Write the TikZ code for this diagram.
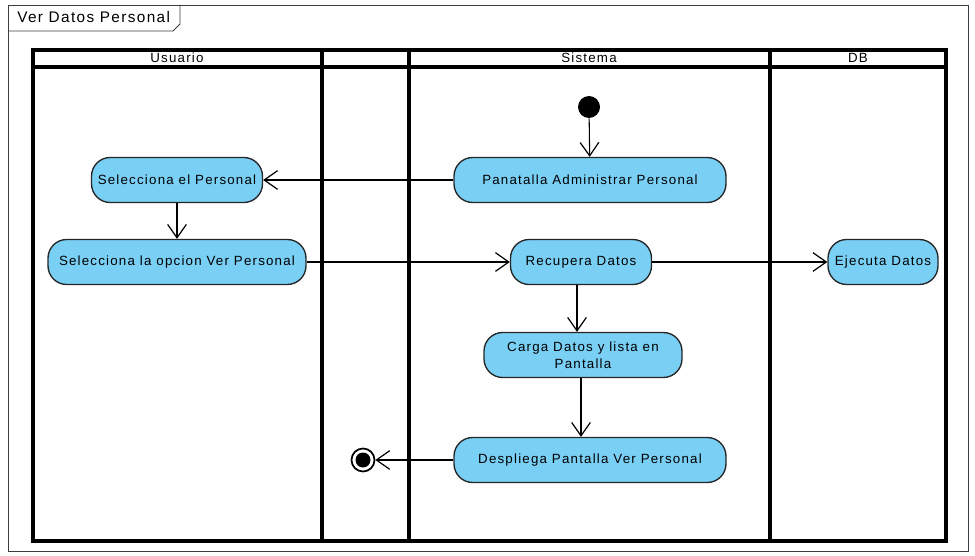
\documentclass[tikz,border=0pt]{standalone}
\usepackage{fontspec}
\setmainfont{Liberation Sans}
\newfontfamily\vpfont[LetterSpace=9]{Liberation Sans}
\usetikzlibrary{arrows.meta,positioning}
\definecolor{actblue}{RGB}{122,207,245}
\definecolor{framegray}{RGB}{60,60,60}
\newcommand{\px}{0.75pt}
\tikzset{
  action/.style={draw=black!85, fill=actblue, rounded corners=14pt, line width=1pt, minimum height=45*\px, align=center, font=\vpfont\fontsize{10}{13}\selectfont, inner sep=2pt},
  initial/.style={circle, fill=black, minimum size=22*\px, inner sep=0pt},
  final/.style={circle, draw=black, line width=1.3pt, fill=white, minimum size=23*\px, inner sep=0pt},
  lanehead/.style={font=\vpfont\fontsize{10}{11}\selectfont, inner sep=0pt, anchor=base},
  lane/.style={line width=2.3pt, black},
  flow/.style={-{Straight Barb[length=10pt, width=14pt, line width=0.9pt]}, line width=0.8pt}
}
\begin{document}
\begin{tikzpicture}[x=0.75pt, y=-0.75pt]
  \useasboundingbox (0,0) rectangle (975,556);
  % frame and its tab
  \draw[framegray, line width=0.7pt] (8,5) rectangle (968,551);
  \draw[framegray, line width=0.7pt] (8,31) -- (173,31) -- (180,24) -- (180,5);
  \node[font=\vpfont\fontsize{11.5}{13}\selectfont, anchor=base west, inner sep=0pt] (title) at (17,23) {Ver Datos Personal};

  % swimlanes
  \draw[lane] (33,50) rectangle (946,541);
  \draw[lane] (33,67) -- (946,67);
  \foreach \x in {322,409,770}
    {\draw[lane] (\x,50) -- (\x,541);}
  \node[lanehead] (usuario) at (177,63) {Usuario};
  \node[lanehead] (sistema) at (589,63) {Sistema};
  \node[lanehead] (db) at (858,63) {DB};

  % activities
  \node[initial] (start) at (589,107) {};
  \node[action, minimum width=272*\px] (admin) at (590,180) {Panatalla Administrar Personal};
  \node[action, minimum width=171*\px] (selper) at (177,180) {Selecciona el Personal};
  \node[action, minimum width=258*\px] (selver) at (177,262) {Selecciona la opcion Ver Personal};
  \node[action, minimum width=141*\px] (recup) at (581,262) {Recupera Datos};
  \node[action, minimum width=110*\px] (ejec) at (883,262) {Ejecuta Datos};
  \node[action, minimum width=198*\px] (carga) at (583,355) {Carga Datos y lista en\\Pantalla};
  \node[action, minimum width=272*\px] (despl) at (590,460) {Despliega Pantalla Ver Personal};
  \node[final] (stop) at (363,460) {};
  \node[circle, fill=black, minimum size=15*\px, inner sep=0pt] at (stop) {};

  % flows
  \draw[flow] (start) -- (admin);
  \draw[flow] (admin) -- (selper);
  \draw[flow] (selper) -- (selver);
  \draw[flow] (selver) -- (recup);
  \draw[flow] (recup) -- (ejec);
  \draw[flow] ([xshift=-3pt]recup.south) -- ([xshift=-3pt]recup.south |- carga.north);
  \draw[flow] ([xshift=-1.5pt]carga.south) -- ([xshift=-1.5pt]carga.south |- despl.north);
  \draw[flow] (despl) -- (stop);
\end{tikzpicture}
\end{document}
